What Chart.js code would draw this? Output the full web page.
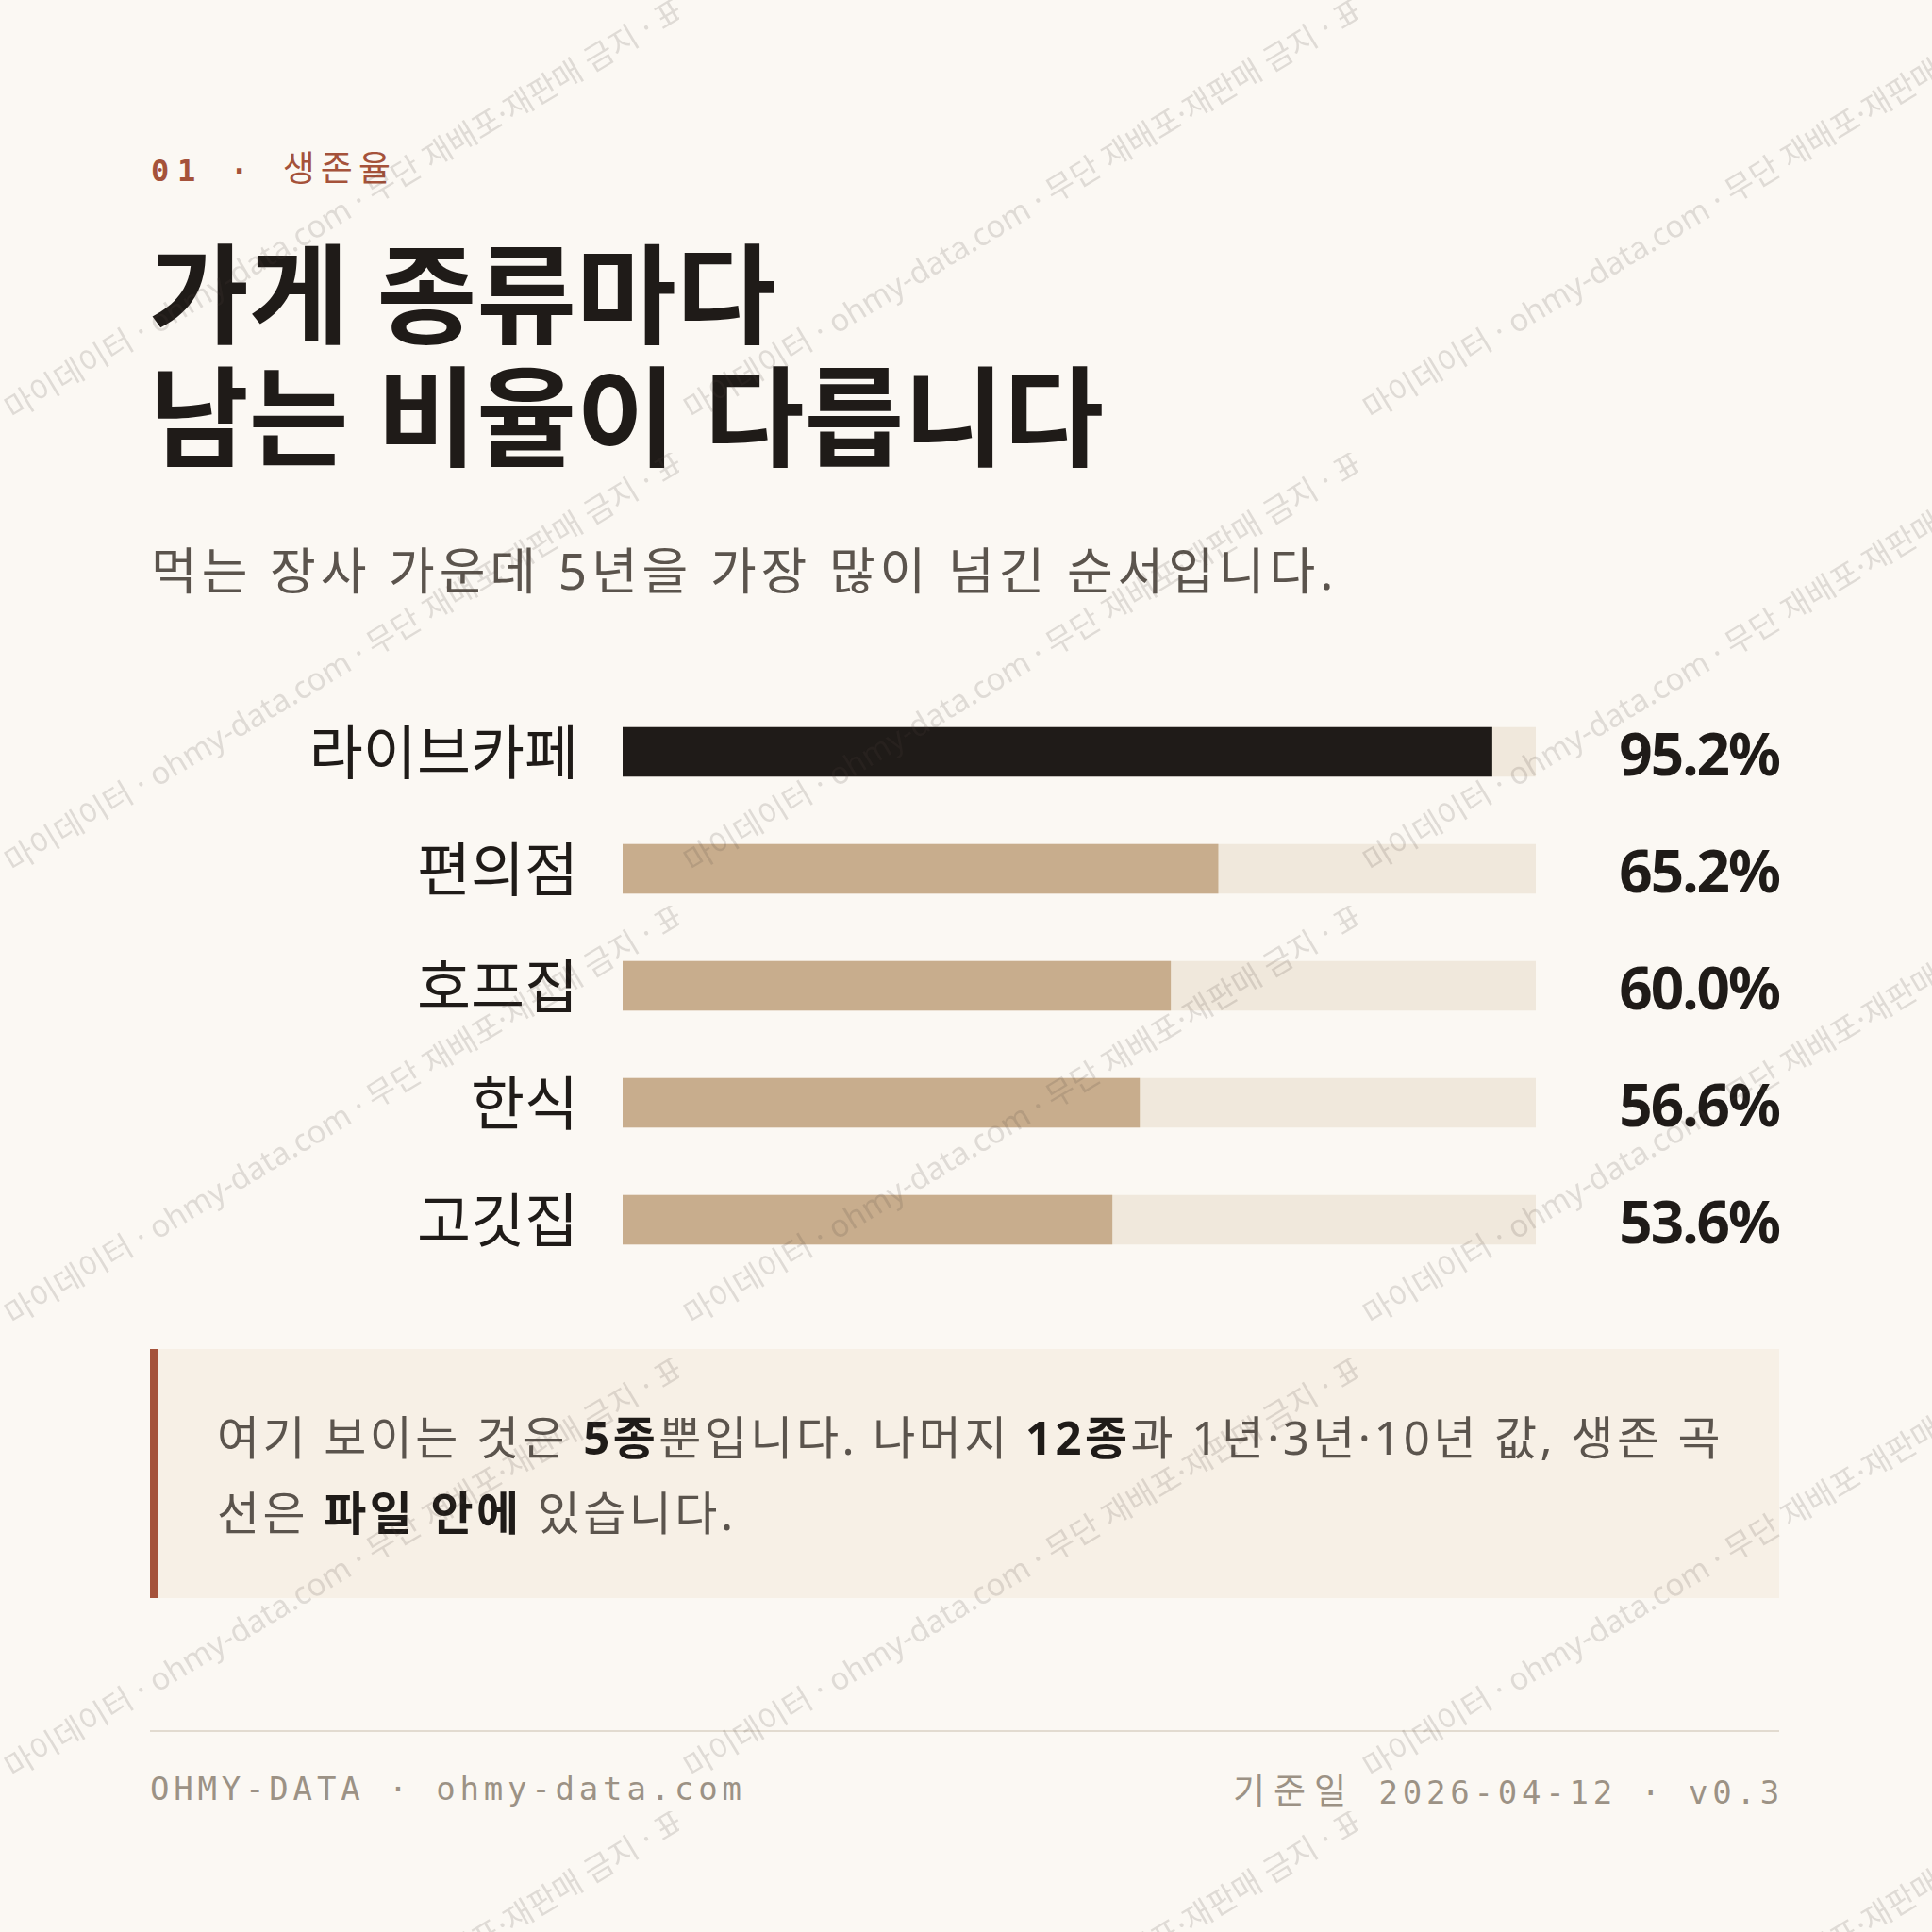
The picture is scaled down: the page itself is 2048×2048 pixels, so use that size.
<!DOCTYPE html>
<html lang="ko">
<head>
<meta charset="utf-8">
<title>생존율</title>
<script src="https://cdn.jsdelivr.net/npm/chart.js@4.4.1/dist/chart.umd.min.js"></script>
<style>
  html, body { margin: 0; padding: 0; }
  body {
    width: 2048px; height: 2048px; position: relative; overflow: hidden;
    background: #FBF8F3; color: #1F1B18;
    font-family: "Noto Sans", "Noto Sans CJK KR", sans-serif;
  }
  .eyebrow { position: absolute; left: 160px; top: 156px; line-height: 40px; color: #A5523A; white-space: pre; }
  .eyebrow .num { font-family: "DejaVu Sans Mono", monospace; font-weight: 700; font-size: 32px; letter-spacing: 8.7px; }
  .eyebrow .kr { font-family: "Noto Sans CJK KR", sans-serif; font-size: 37px; letter-spacing: 6px; }
  .title { position: absolute; left: 158px; top: 246px; margin: 0; font-size: 115px; line-height: 130px; font-weight: 700; letter-spacing: 0; }
  .sub { position: absolute; left: 160px; top: 575px; font-size: 53px; line-height: 60px; color: #5B544D; letter-spacing: 4.9px; }
  #chartBox { position: absolute; left: 0; top: 700px; width: 2048px; height: 700px; }
  .note {
    position: absolute; left: 159px; top: 1430px; width: 1727px; height: 264px; box-sizing: border-box;
    background: #F7F0E6; border-left: 8px solid #A5523A;
    padding: 53px 40px 0 63px; font-size: 49px; line-height: 80px; color: #5B544D; white-space: nowrap; letter-spacing: 3.45px;
  }
  .note b { color: #1F1B18; font-weight: 700; }
  .rule { position: absolute; left: 159px; top: 1834px; width: 1727px; height: 2px; background: #E2DBD0; }
  .foot { position: absolute; top: 1876px; line-height: 40px; font-family: "DejaVu Sans Mono", monospace; font-size: 34px; letter-spacing: 4.8px; color: #9C9285; white-space: pre; }
  .foot.left { left: 159px; }
  .foot.right { right: 157px; }
  .foot .kr { font-family: "Noto Sans CJK KR", sans-serif; font-size: 37px; letter-spacing: 9px; }
  #wm { position: absolute; left: 0; top: 0; width: 2048px; height: 2048px; pointer-events: none; }
</style>
</head>
<body>
<div class="eyebrow"><span class="num">01 · </span><span class="kr">생존율</span></div>
<h1 class="title">가게 종류마다<br>남는 비율이 다릅니다</h1>
<div class="sub">먹는 장사 가운데 5년을 가장 많이 넘긴 순서입니다.</div>

<div id="chartBox"><canvas id="mycanvas"></canvas></div>

<div class="note">여기 보이는 것은 <b>5종</b>뿐입니다. 나머지 <b>12종</b>과 1년·3년·10년 값, 생존 곡<br>선은 <b>파일 안에</b> 있습니다.</div>

<div class="rule"></div>
<div class="foot left">OHMY-DATA · ohmy-data.com</div>
<div class="foot right"><span class="kr">기준일</span> 2026-04-12 · v0.3</div>
<div id="wm"></div>

<script>
// 5년 생존율 (%)
var stores = ['라이브카페', '편의점', '호프집', '한식', '고깃집'];
var survival5y = [95.2, 65.2, 60.0, 56.6, 53.6];
var trackValues = [100, 100, 100, 100, 100];
var highlightIndex = 0;

var DARK = '#1F1B18';
var TAN = '#C8AD8D';
var TRACK = '#F0E8DC';

// value text at the right of each bar
var valueLabels = {
	id: 'valueLabels',
	afterDatasetsDraw: function(chart) {
		var ctx = chart.ctx;
		var meta = chart.getDatasetMeta(0);
		var x = chart.chartArea.right + 258;
		ctx.save();
		ctx.font = '700 62px "Noto Sans", sans-serif';
		if ('letterSpacing' in ctx) ctx.letterSpacing = '-2px';
		ctx.fillStyle = DARK;
		ctx.textAlign = 'right';
		ctx.textBaseline = 'middle';
		meta.data.forEach(function(bar, i) {
			ctx.fillText(survival5y[i].toFixed(1) + '%', x, bar.y + 7);
		});
		ctx.restore();
	}
};

var chartdata = {
	labels: stores,
	datasets: [
		{
			label: '5년 생존율',
			data: survival5y,
			backgroundColor: function(c) { return c.dataIndex === highlightIndex ? DARK : TAN; },
			barThickness: 52,
			grouped: false,
			borderSkipped: false
		},
		{
			label: 'track',
			data: trackValues,
			backgroundColor: TRACK,
			barThickness: 52,
			grouped: false,
			borderSkipped: false
		}
	]
};

var barGraph = new Chart(document.getElementById('mycanvas'), {
	type: 'bar',
	data: chartdata,
	options: {
		indexAxis: 'y',
		responsive: true,
		maintainAspectRatio: false,
		animation: false,
		layout: { padding: { left: 0, right: 420, top: 35, bottom: 45 } },
		plugins: { legend: { display: false }, tooltip: { enabled: false } },
		scales: {
			x: { min: 0, max: 100, display: false },
			y: {
				grid: { display: false, drawTicks: false },
				border: { display: false },
				afterFit: function(scale) {
					scale.width = 660;
					scale.paddingTop = 0;
					scale.paddingBottom = 0;
				},
				ticks: {
					padding: 47,
					color: DARK,
					font: { family: '"Noto Sans CJK KR", sans-serif', size: 62, weight: 400 }
				}
			}
		}
	},
	plugins: [valueLabels]
});

// watermark tile
(function() {
	var c = document.createElement('canvas');
	c.width = 720; c.height = 480;
	var g = c.getContext('2d');
	g.translate(14, 446);
	g.rotate(-31 * Math.PI / 180);
	g.font = '400 33px "Noto Sans", "Noto Sans CJK KR", sans-serif';
	g.fillStyle = 'rgba(80,70,60,0.16)';
	g.fillText('마이데이터 · ohmy-data.com · 무단 재배포·재판매 금지 · 표본 데이터', 0, 0);
	var wm = document.getElementById('wm');
	wm.style.backgroundImage = 'url(' + c.toDataURL() + ')';
	wm.style.backgroundSize = '720px 480px';
})();
</script>
</body>
</html>
